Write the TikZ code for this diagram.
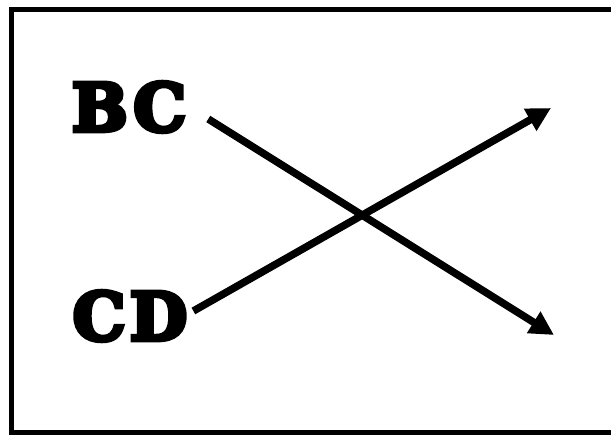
\documentclass[tikz,border=0pt]{standalone}
\usepackage{fontspec}
\usepackage{tikz}
\usetikzlibrary{positioning, arrows.meta}
\newfontfamily\slabfont{DejaVu Serif}[UprightFont=* Bold, FakeBold=7, LetterSpace=7]

\begin{document}
\begin{tikzpicture}[
            x=1pt, y=-1pt,
            label/.style={font=\slabfont\fontsize{66}{66}\selectfont, inner sep=0pt, text=black},
            arrow/.style={-{Triangle[length=24pt, width=24pt]}, line width=7.5pt, black}
        ]
            \useasboundingbox (0,0) rectangle (611,435);
            \fill[white] (0,0) rectangle (611,435);
            % frame, right side falls outside the picture
            \draw[line width=5pt] (620,9.5) -- (11.5,9.5) -- (11.5,432.5) -- (620,432.5);

            \node[label] (bc) at (129,107) {BC};
            \node[label] (cd) at (130,316) {CD};

            \coordinate (bcend) at (554,335);
            \coordinate (cdend) at (551,108);

            \draw[arrow] ([shift={(22,12)}]bc.east) -- (bcend);
            \draw[arrow] ([shift={(6,-5)}]cd.east) -- (cdend);

        \end{tikzpicture}
\end{document}
